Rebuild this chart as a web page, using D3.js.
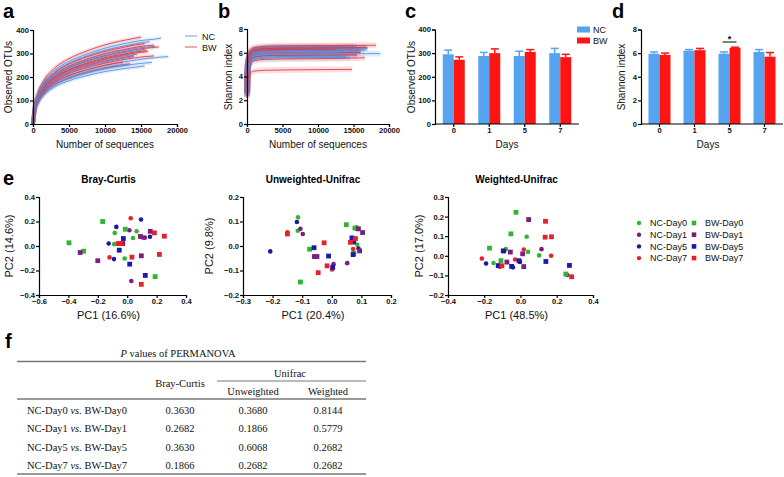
<!DOCTYPE html>
<html><head><meta charset="utf-8">
<script src="https://cdn.jsdelivr.net/npm/d3@7"></script>
<style>body{margin:0;background:#fff}svg{display:block}</style>
</head><body>
<svg id="c" width="784" height="477"></svg>
<script>
// ---------- DATA ----------
// Panel a: rarefaction of observed OTUs. Values at depthGridA (below curve end) then value at curve end.
const depthGridA = [0,250,700,1500,3000,5000,7500,10000,12500,15000,17500];
const ncEndA = [17800,16200,18800,15500,14500,16500,15500,13200,17000,14000];
const ncCurvesA = [
  [0,80,130,178,228,266,298,323,341,355,364,366],
  [0,75,122,170,220,258,290,314,331,345,350],
  [0,62,100,138,177,206,231,250,264,275,284,287],
  [0,72,115,160,203,238,266,287,303,315,317],
  [0,68,110,152,193,226,252,273,289,297],
  [0,55,92,128,165,193,217,235,248,258,262],
  [0,52,88,122,157,184,206,223,235,245,247],
  [0,60,96,132,169,198,222,240,252,254],
  [0,74,118,164,210,245,274,297,313,325,330],
  [0,66,106,147,187,218,244,264,279,287]
];
const bwEndA = [15000,16800,17500,15800,13500,14000,16000,12500,15500,16800];
const bwCurvesA = [
  [0,82,135,186,238,278,311,337,355,370],
  [0,70,116,162,210,246,276,300,316,330,336],
  [0,68,112,157,204,240,269,291,307,320,328],
  [0,66,108,152,198,232,260,282,297,310,313],
  [0,56,92,128,167,196,220,238,251,256],
  [0,62,104,145,188,221,248,268,283,291],
  [0,64,108,150,195,229,256,277,293,305,308],
  [0,58,98,136,176,206,231,250,264],
  [0,76,122,170,218,255,286,309,326,340,342],
  [0,60,100,140,182,214,240,259,274,285,290]
];
// Panel b: Shannon rarefaction
const depthGridB = [10,80,200,500,1000,2500,5000,10000,15000];
const ncEndB = [17000,16000,18800,15500,14500,16500,15500,13200,17000,14000];
const ncCurvesB = [
  [2.6,4.6,5.3,5.9,6.12,6.24,6.28,6.3,6.32,6.33],
  [2.5,4.5,5.2,5.7,5.92,6.04,6.08,6.1,6.12,6.12],
  [2.4,4.3,5.0,5.5,5.72,5.84,5.88,5.9,5.92,5.93],
  [2.8,4.8,5.5,6.1,6.32,6.44,6.48,6.5,6.52,6.52],
  [2.3,4.1,4.8,5.2,5.42,5.54,5.58,5.6,5.6],
  [2.6,4.5,5.2,5.8,6.02,6.14,6.18,6.2,6.22,6.22],
  [2.4,4.3,5.0,5.4,5.62,5.74,5.78,5.8,5.82,5.82],
  [2.5,4.4,5.1,5.6,5.82,5.94,5.98,6.0,6.0],
  [2.7,4.7,5.4,6.0,6.22,6.34,6.38,6.4,6.42,6.43],
  [2.4,4.2,4.9,5.3,5.52,5.64,5.68,5.7,5.7]
];
const bwEndB = [15000,16800,18200,15800,16600,14800,16000,12500,15500,16800];
const bwCurvesB = [
  [2.8,4.8,5.5,6.1,6.32,6.44,6.48,6.5,6.5],
  [2.7,4.7,5.4,6.0,6.22,6.34,6.38,6.4,6.42,6.43],
  [2.9,4.9,5.6,6.2,6.42,6.54,6.58,6.6,6.62,6.63],
  [2.6,4.6,5.3,5.8,6.02,6.14,6.18,6.2,6.22,6.22],
  [2.3,4.1,4.8,5.1,5.32,5.44,5.48,5.5,5.55,5.58],
  [2.2,3.5,4.0,4.3,4.45,4.52,4.55,4.58,4.6],
  [2.5,4.4,5.1,5.6,5.82,5.94,5.98,6.0,6.02,6.02],
  [2.7,4.6,5.3,5.9,6.12,6.24,6.28,6.3,6.3],
  [2.4,4.3,5.0,5.4,5.62,5.74,5.78,5.8,5.82,5.82],
  [2.7,4.7,5.4,6.0,6.22,6.34,6.38,6.4,6.42,6.43]
];
// Panels c, d
const days = ["0","1","5","7"];
const otuNC = [295,288,288,300], otuNCerr = [18,15,20,20];
const otuBW = [272,300,305,283], otuBWerr = [12,18,10,12];
const shNC = [5.95,6.2,5.95,6.1], shNCerr = [0.15,0.1,0.15,0.2];
const shBW = [5.85,6.25,6.45,5.7], shBWerr = [0.15,0.15,0.05,0.35];
// Panel e: PCoA points [PC1, PC2]
const groups = ["NC-Day0","NC-Day1","NC-Day5","NC-Day7","BW-Day0","BW-Day1","BW-Day5","BW-Day7"];
const groupColors = ["#2fb52f","#7b1f7b","#1a1aa8","#e8202a","#2fb52f","#7b1f7b","#1a1aa8","#e8202a"];
const brayPts = [
  [[-0.085,0.107],[0.04,0.065],[-0.088,0.015],[-0.017,-0.102],[0.064,0.12]],
  [[0.015,0.129],[0.105,0.07],[0.12,0.068],[0.028,-0.286]],
  [[-0.074,0.156],[0.094,0.216],[-0.126,0.02],[-0.09,-0.107],[0.155,0.075]],
  [[0.024,0.226],[-0.12,-0.093]],
  [[-0.396,0.026],[-0.167,0.2],[-0.013,0.137],[-0.296,-0.042],[0.19,-0.25]],
  [[0.157,0.12],[0.09,0.078],[-0.03,0.02],[-0.32,-0.053],[-0.2,-0.12],[0.096,-0.08]],
  [[-0.026,0.061],[-0.054,-0.034],[0.017,-0.148],[0.123,-0.24]],
  [[-0.06,0.02],[-0.045,0.02],[0.185,0.107],[0.253,0.08],[0.032,-0.091],[0.219,-0.069],[0.096,-0.313]]
];
const unwPts = [
  [[-0.114,0.117],[-0.115,0.062],[0.084,0.076],[0.086,0.005],[0.075,-0.03]],
  [[-0.106,0.07],[-0.098,0.049],[0.006,-0.074],[0.052,-0.07],[0.085,0.07]],
  [[-0.208,-0.022],[-0.118,0.098],[0.075,0.015],[0.09,-0.01]],
  [[-0.15,0.056],[0.001,-0.096],[0.072,-0.012],[0.075,0.03]],
  [[-0.075,-0.013],[-0.106,-0.147],[0.049,0.087],[0.078,0.073],[0.074,-0.03]],
  [[-0.059,-0.043],[-0.05,-0.043],[0.104,0.055],[0.094,-0.02],[0.09,0.07]],
  [[-0.06,-0.007],[-0.011,-0.041],[0.003,-0.087],[0.068,0.033],[0.072,-0.035]],
  [[-0.15,0.049],[-0.026,0.013],[-0.016,-0.081],[-0.046,-0.109],[0.08,0.03],[0.063,0.015]]
];
const wPts = [
  [[0.034,0.097],[-0.081,0.034],[0.042,0.02],[0.103,0.002],[-0.149,-0.037]],
  [[0.116,0.034],[-0.003,-0.031],[-0.113,-0.056],[0.258,-0.098]],
  [[-0.09,0.024],[-0.19,-0.039],[-0.042,-0.059],[-0.005,-0.03]],
  [[0.018,0.032],[0.169,0],[-0.213,-0.014],[-0.03,-0.019]],
  [[-0.025,0.222],[-0.053,0.112],[-0.171,0.039],[-0.108,-0.025],[0.25,-0.093]],
  [[0.045,0.185],[-0.056,0.019],[0.012,0.01],[-0.075,-0.032],[0.018,-0.055]],
  [[-0.095,0.025],[0.14,-0.029],[0.27,-0.049],[-0.008,-0.025],[-0.123,-0.05],[-0.049,-0.054]],
  [[0.138,0.176],[0.136,0.095],[0.171,0.097],[-0.103,-0.051],[0.282,-0.107]]
];
// Panel f table
const tableRowsLeft = ["NC-Day0","NC-Day1","NC-Day5","NC-Day7"];
const tableRowsRight = ["BW-Day0","BW-Day1","BW-Day5","BW-Day7"];
const pBray = ["0.3630","0.2682","0.3630","0.1866"];
const pUnw = ["0.3680","0.1866","0.6068","0.2682"];
const pW = ["0.8144","0.5779","0.2682","0.2682"];

// ---------- DRAW ----------
const SANS = "'Liberation Sans', Arial, Helvetica, sans-serif";
const SERIF = "'Liberation Serif', 'Times New Roman', serif";
const NCcol = "#4f8fe0", BWcol = "#e8303a";
const barBlue = "#55a4ef", barRed = "#ff1414";
const svg = d3.select("#c");

function styleAxis(g){
  g.selectAll("path,line").attr("stroke","#000").attr("stroke-width",1.2);
  g.selectAll("text").attr("font-size",7.6).attr("font-weight","bold").attr("font-family",SANS).attr("fill","#111");
}
function ylabel(x,y,t,size){
  svg.append("text").attr("transform",`translate(${x},${y}) rotate(-90)`).attr("text-anchor","middle")
    .attr("font-family",SANS).attr("font-size",size||10).attr("fill","#111").text(t);
}
function xlabel(x,y,t,size){
  svg.append("text").attr("x",x).attr("y",y).attr("text-anchor","middle")
    .attr("font-family",SANS).attr("font-size",size||10).attr("fill","#111").text(t);
}
function panelLabel(x,y,t){
  svg.append("text").attr("x",x).attr("y",y).attr("font-family",SANS).attr("font-weight","bold")
    .attr("font-size",20).attr("fill","#000").text(t);
}

// Rarefaction panels
function rarefaction(xr, yr, ymax, yticks, grid, ncC, ncE, bwC, bwE, bandW){
  const x = d3.scaleLinear().domain([0,20000]).range(xr);
  const y = d3.scaleLinear().domain([0,ymax]).range(yr);
  const line = d3.line().x(d=>x(d[0])).y(d=>y(d[1])).curve(d3.curveMonotoneX);
  const pts = (vals,end)=>{ const g = grid.filter(d=>d<end); const p = g.map((d,i)=>[d,vals[i]]); p.push([end, vals[vals.length-1]]); return p; };
  const all = [];
  ncC.forEach((v,i)=>all.push({p:pts(v,ncE[i]),c:NCcol}));
  bwC.forEach((v,i)=>all.push({p:pts(v,bwE[i]),c:BWcol}));
  const order = [];
  for(let i=0;i<ncC.length;i++){ order.push(all[ncC.length+i]); order.push(all[i]); }
  const gg = svg.append("g");
  order.forEach(o=>gg.append("path").attr("d",line(o.p)).attr("fill","none").attr("stroke",o.c).attr("stroke-opacity",0.16).attr("stroke-width",bandW));
  order.forEach(o=>gg.append("path").attr("d",line(o.p)).attr("fill","none").attr("stroke",o.c).attr("stroke-opacity",0.85).attr("stroke-width",1));
  styleAxis(svg.append("g").attr("transform",`translate(0,${yr[0]})`).call(d3.axisBottom(x).tickValues([0,5000,10000,15000,20000]).tickSize(3).tickPadding(1).tickFormat(d3.format("d"))));
  styleAxis(svg.append("g").attr("transform",`translate(${xr[0]},0)`).call(d3.axisLeft(y).tickValues(yticks).tickSize(3).tickPadding(1).tickFormat(d3.format("d"))));
}
rarefaction([33,177],[124,30],400,[0,100,200,300,400],depthGridA,ncCurvesA,ncEndA,bwCurvesA,bwEndA,4);
rarefaction([247,389],[124,29],8,[0,2,4,6,8],depthGridB,ncCurvesB,ncEndB,bwCurvesB,bwEndB,6);
panelLabel(3,18,"a"); panelLabel(218,18,"b");
ylabel(12,77,"Observed OTUs"); xlabel(105,148,"Number of sequences");
ylabel(232,77,"Shannon index"); xlabel(318,148,"Number of sequences");
// legend a/b
[[NCcol,"NC",36],[BWcol,"BW",47]].forEach(d=>{
  svg.append("line").attr("x1",185).attr("x2",197).attr("y1",d[2]).attr("y2",d[2]).attr("stroke",d[0]).attr("stroke-opacity",0.7).attr("stroke-width",1.2);
  svg.append("text").attr("x",202).attr("y",d[2]+3.5).attr("font-family",SANS).attr("font-size",9).attr("fill","#111").text(d[1]);
});

// Bar panels
function bars(xr, ymax, yticks, nc, ncErr, bw, bwErr){
  const x = d3.scaleBand().domain(days).range(xr);
  const y = d3.scaleLinear().domain([0,ymax]).range([124,29.5]);
  const bw_ = 11;
  const g = svg.append("g");
  const draw = (vals, errs, col, off)=>{
    days.forEach((d,i)=>{
      const cx = x(d)+x.bandwidth()/2;
      const x0 = cx + off;
      g.append("line").attr("x1",x0+bw_/2).attr("x2",x0+bw_/2).attr("y1",y(vals[i])).attr("y2",y(vals[i]+errs[i])).attr("stroke",col).attr("stroke-width",1.5);
      g.append("line").attr("x1",x0+bw_/2-4).attr("x2",x0+bw_/2+4).attr("y1",y(vals[i]+errs[i])).attr("y2",y(vals[i]+errs[i])).attr("stroke",col).attr("stroke-width",1.5);
      g.append("rect").attr("x",x0).attr("y",y(vals[i])).attr("width",bw_).attr("height",y(0)-y(vals[i])).attr("fill",col);
    });
  };
  draw(nc,ncErr,barBlue,-bw_);
  draw(bw,bwErr,barRed,0);
  const ax = svg.append("g").attr("transform","translate(0,124)").call(d3.axisBottom(x).tickSize(3).tickPadding(1));
  ax.select("path").attr("d",`M${xr[0]-1},0H${xr[1]+1}`);
  styleAxis(ax);
  styleAxis(svg.append("g").attr("transform",`translate(${xr[0]-1},0)`).call(d3.axisLeft(y).tickValues(yticks).tickSize(3).tickPadding(1).tickFormat(d3.format("d"))));
  return {x,y};
}
bars([436,578],400,[0,100,200,300,400],otuNC,otuNCerr,otuBW,otuBWerr);
const dd = bars([642,782],8,[0,2,4,6,8],shNC,shNCerr,shBW,shBWerr);
panelLabel(405,18,"c"); panelLabel(612,18,"d");
ylabel(415,77,"Observed OTUs"); xlabel(507,148,"Days");
ylabel(625,77,"Shannon index"); xlabel(708,148,"Days");
// significance on day 5
{
  const cx = dd.x("5")+dd.x.bandwidth()/2;
  svg.append("line").attr("x1",cx-7).attr("x2",cx+7).attr("y1",42).attr("y2",42).attr("stroke","#000").attr("stroke-width",1);
  svg.append("text").attr("x",cx).attr("y",42).attr("text-anchor","middle").attr("font-family",SANS).attr("font-weight","bold").attr("font-size",9).text("*");
}
// legend c/d
[[barBlue,"NC",26.5],[barRed,"BW",37.5]].forEach(d=>{
  svg.append("rect").attr("x",577).attr("y",d[2]).attr("width",13).attr("height",6).attr("fill",d[0]);
  svg.append("text").attr("x",593).attr("y",d[2]+6.5).attr("font-family",SANS).attr("font-size",9).attr("fill","#111").text(d[1]);
});

// PCoA panels
function pcoa(xr, xd, xt, yd, yt, pts, title, xl, yl, ylx){
  const x = d3.scaleLinear().domain(xd).range(xr);
  const y = d3.scaleLinear().domain(yd).range([295,197]);
  styleAxis(svg.append("g").attr("transform","translate(0,295)").call(d3.axisBottom(x).tickValues(xt).tickSize(3).tickPadding(1).tickFormat(d3.format(".1f"))));
  styleAxis(svg.append("g").attr("transform",`translate(${xr[0]},0)`).call(d3.axisLeft(y).tickValues(yt).tickSize(3).tickPadding(1).tickFormat(d3.format(".1f"))));
  const g = svg.append("g");
  pts.forEach((grp,gi)=>{
    grp.forEach(p=>{
      if(gi<4) g.append("circle").attr("cx",x(p[0])).attr("cy",y(p[1])).attr("r",2.3).attr("fill",groupColors[gi]);
      else g.append("rect").attr("x",x(p[0])-2.4).attr("y",y(p[1])-2.4).attr("width",4.8).attr("height",4.8).attr("fill",groupColors[gi]);
    });
  });
  const cx = (xr[0]+xr[1])/2;
  svg.append("text").attr("x",cx-4).attr("y",183).attr("text-anchor","middle").attr("font-family",SANS).attr("font-weight","bold").attr("font-size",10).text(title);
  xlabel(cx-4,319,xl,11);
  ylabel(ylx,246,yl,11);
}
pcoa([39,186],[-0.6,0.4],[-0.6,-0.4,-0.2,0,0.2,0.4],[-0.4,0.4],[-0.4,-0.2,0,0.2,0.4],brayPts,"Bray-Curtis","PC1 (16.6%)","PC2 (14.6%)",13);
pcoa([243,391],[-0.3,0.2],[-0.3,-0.2,-0.1,0,0.1,0.2],[-0.2,0.2],[-0.2,-0.1,0,0.1,0.2],unwPts,"Unweighted-Unifrac","PC1 (20.4%)","PC2 (9.8%)",213);
pcoa([448,593],[-0.4,0.4],[-0.4,-0.2,0,0.2,0.4],[-0.2,0.3],[-0.2,-0.1,0,0.1,0.2,0.3],wPts,"Weighted-Unifrac","PC1 (48.5%)","PC2 (17.0%)",423);
panelLabel(3,185,"e");
// legend e
groups.forEach((gname,i)=>{
  const col = i<4?0:1; const row = i%4;
  const mx = col===0?639:694, my = 223+row*11.7;
  if(col===0) svg.append("circle").attr("cx",mx).attr("cy",my).attr("r",2.2).attr("fill",groupColors[i]);
  else svg.append("rect").attr("x",mx-2.3).attr("y",my-2.3).attr("width",4.6).attr("height",4.6).attr("fill",groupColors[i]);
  svg.append("text").attr("x",mx+11).attr("y",my+3.3).attr("font-family",SANS).attr("font-size",9).attr("fill","#111").text(gname);
});

// Table f
panelLabel(5,348,"f");
const tg = svg.append("g").attr("font-family",SERIF).attr("font-size",10.5).attr("fill","#111");
const tt = tg.append("text").attr("x",178).attr("y",357).attr("text-anchor","middle");
tt.append("tspan").attr("font-style","italic").text("P");
tt.append("tspan").text(" values of PERMANOVA");
const hl = (x1,x2,yy,w)=>tg.append("line").attr("x1",x1).attr("x2",x2).attr("y1",yy).attr("y2",yy).attr("stroke","#777").attr("stroke-width",w);
hl(17,366,361.5,1.3);
hl(217,366,381,1);
hl(17,366,399,1.3);
hl(17,366,474,1.3);
tg.append("text").attr("x",180).attr("y",387).attr("text-anchor","middle").text("Bray-Curtis");
tg.append("text").attr("x",290).attr("y",377).attr("text-anchor","middle").text("Unifrac");
tg.append("text").attr("x",253).attr("y",395).attr("text-anchor","middle").text("Unweighted");
tg.append("text").attr("x",328).attr("y",395).attr("text-anchor","middle").text("Weighted");
tableRowsLeft.forEach((l,i)=>{
  const yy = 414 + i*18.3;
  const t = tg.append("text").attr("x",27).attr("y",yy);
  t.append("tspan").text(l+" ");
  t.append("tspan").attr("font-style","italic").text("vs.");
  t.append("tspan").text(" "+tableRowsRight[i]);
  tg.append("text").attr("x",180).attr("y",yy).attr("text-anchor","middle").text(pBray[i]);
  tg.append("text").attr("x",253).attr("y",yy).attr("text-anchor","middle").text(pUnw[i]);
  tg.append("text").attr("x",328).attr("y",yy).attr("text-anchor","middle").text(pW[i]);
});
</script>
</body></html>
